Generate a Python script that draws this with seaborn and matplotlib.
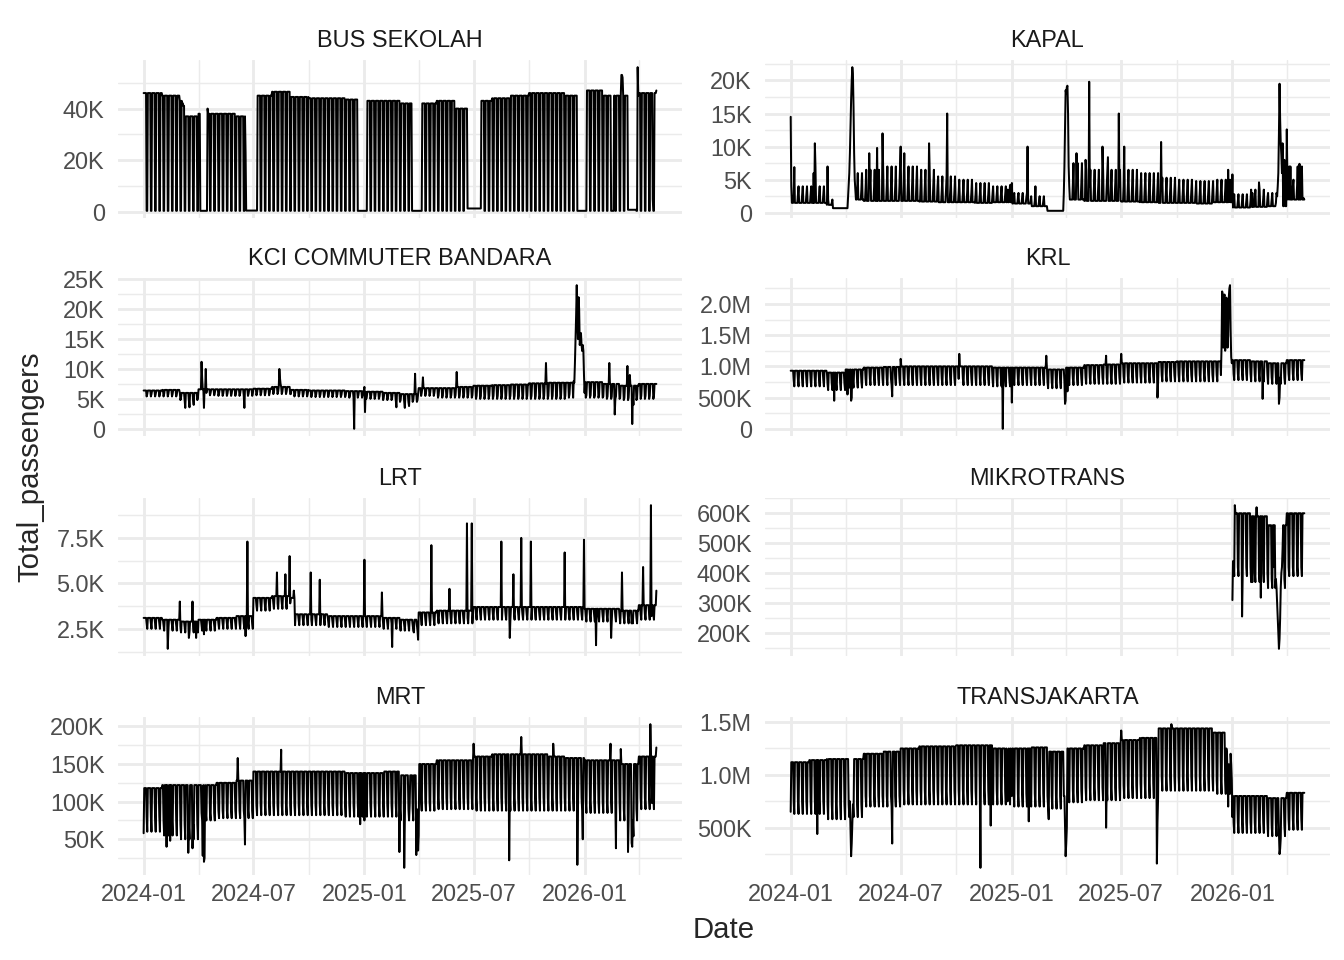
"""
Daily passengers per transport mode, Jakarta (facet grid, free y scales)
"""
import numpy as np
import pandas as pd
import matplotlib
matplotlib.use("Agg")
import matplotlib.pyplot as plt
import seaborn as sns

START, END = "2024-01-01", "2026-04-30"

MODA = ["BUS SEKOLAH", "KAPAL", "KCI COMMUTER BANDARA", "KRL",
        "LRT", "MIKROTRANS", "MRT", "TRANSJAKARTA"]

# monthly levels (Jan 2024 .. Apr 2026): weekday, saturday, sunday
# values in thousands unless noted
bus_wd = [46, 45, 37, 38, 38, 37, 45, 46.5, 44.5, 44, 44, 43.5,
          43, 43, 42, 42, 43, 40, 43, 44, 45, 46, 46, 45,
          47, 45, 45, 46]
bus_sat = [0.5] * 28
bus_sun = [0.5] * 28
bus_ranges = [("2024-04-04", "2024-04-15", 0.5), ("2024-06-19", "2024-07-07", 0.6),
              ("2024-12-21", "2025-01-05", 0.5), ("2025-03-21", "2025-04-06", 0.5),
              ("2025-06-21", "2025-07-13", 1.4), ("2025-12-20", "2026-01-04", 0.5),
              ("2026-02-14", "2026-02-18", 0.5), ("2026-03-14", "2026-03-27", 0.9)]
bus_points = [("2024-03-01", 43), ("2024-03-04", 43), ("2024-03-05", 42), ("2024-03-06", 42),
              ("2024-03-07", 41), ("2024-03-08", 41), ("2024-04-16", 40), ("2024-06-18", 23),
              ("2026-03-03", 53), ("2026-03-04", 53), ("2026-03-05", 52), ("2026-03-30", 56),
              ("2026-04-24", 5), ("2026-04-30", 47)]

kapal_wd = [1.5, 1.5, 1.2, 2.0, 1.8, 1.8, 1.8, 1.7, 1.6, 1.6, 1.5, 1.6,
            1.4, 1.0, 0.8, 2.0, 1.8, 1.8, 1.7, 1.6, 1.5, 1.5, 1.4, 1.6,
            0.8, 0.9, 1.0, 2.0]
kapal_sat = [2.8, 2.8, 1.5, 3.5, 3.8, 4.0, 4.2, 4.0, 3.3, 3.0, 2.8, 2.8,
             2.3, 1.8, 1.0, 4.5, 4.0, 4.0, 4.0, 3.8, 3.3, 3.2, 3.0, 3.2,
             1.8, 2.2, 2.0, 4.0]
kapal_sun = [4.0, 4.0, 2.0, 6.0, 6.5, 7.0, 7.0, 6.5, 5.5, 5.0, 4.5, 4.0,
             3.0, 2.5, 1.2, 7.5, 6.5, 6.5, 6.5, 6.0, 5.3, 5.0, 4.8, 5.0,
             2.8, 3.5, 3.0, 7.0]
kapal_ranges = [("2024-03-11", "2024-04-04", 0.7), ("2025-03-01", "2025-03-27", 0.3)]
kapal_points = [("2024-01-01", 14.5), ("2024-01-02", 4), ("2024-01-07", 6.9), ("2024-02-08", 6),
                ("2024-02-10", 10.5), ("2024-02-11", 7), ("2024-03-02", 7),
                ("2024-04-05", 2.5), ("2024-04-06", 4), ("2024-04-07", 6), ("2024-04-08", 9),
                ("2024-04-09", 13), ("2024-04-10", 17), ("2024-04-11", 20), ("2024-04-12", 22),
                ("2024-04-13", 21), ("2024-04-14", 16), ("2024-04-15", 9), ("2024-04-16", 5),
                ("2024-04-17", 3.5), ("2024-05-10", 9), ("2024-05-23", 9.8), ("2024-06-01", 12),
                ("2024-07-01", 10), ("2024-07-07", 9), ("2024-08-17", 10.5), ("2024-09-16", 15),
                ("2024-12-25", 3.5), ("2024-12-29", 4.2), ("2025-01-01", 4.5), ("2025-01-27", 10),
                ("2025-02-09", 4), ("2025-03-28", 3), ("2025-03-29", 7), ("2025-03-30", 13),
                ("2025-03-31", 18.5), ("2025-04-01", 18), ("2025-04-02", 19), ("2025-04-03", 19.2),
                ("2025-04-04", 15), ("2025-04-05", 7), ("2025-04-06", 4), ("2025-04-18", 9),
                ("2025-05-03", 8), ("2025-05-09", 19.8), ("2025-05-31", 10), ("2025-06-09", 8.4),
                ("2025-06-27", 15), ("2025-07-06", 10), ("2025-09-05", 10.7), ("2025-12-25", 6.5),
                ("2025-12-28", 5), ("2026-01-01", 5.8), ("2026-02-03", 3), ("2026-02-14", 4.6),
                ("2026-03-14", 1.5), ("2026-03-16", 2.5), ("2026-03-17", 4), ("2026-03-18", 6),
                ("2026-03-19", 12), ("2026-03-20", 19.5), ("2026-03-21", 14), ("2026-03-22", 10.5),
                ("2026-03-23", 8.7), ("2026-03-24", 6), ("2026-03-25", 10.5), ("2026-03-28", 8),
                ("2026-04-01", 12.6), ("2026-04-02", 5), ("2026-04-07", 7), ("2026-04-12", 5),
                ("2026-04-22", 7.4), ("2026-04-29", 2.2), ("2026-04-30", 2)]

kci_wd = [6.4, 6.5, 6.0, 6.6, 6.6, 6.6, 6.7, 7.0, 6.5, 6.4, 6.4, 6.3,
          6.2, 6.0, 5.8, 6.8, 6.8, 7.0, 7.2, 7.3, 7.4, 7.6, 7.7, 7.7,
          7.8, 7.5, 7.2, 7.5]
kci_sat = [5.4, 5.4, 4.8, 5.6, 5.5, 5.5, 5.6, 5.8, 5.4, 5.3, 5.3, 5.2,
           5.0, 4.8, 4.5, 5.5, 5.2, 5.2, 5.0, 5.0, 5.0, 5.0, 5.0, 5.2,
           5.2, 5.0, 4.8, 5.0]
kci_sun = [5.8, 5.8, 5.2, 6.0, 5.9, 5.9, 6.0, 6.2, 5.8, 5.7, 5.7, 5.6,
           5.4, 5.2, 4.8, 6.0, 5.6, 5.6, 5.5, 5.5, 5.5, 5.5, 5.5, 5.8,
           5.6, 5.4, 5.2, 5.5]
kci_ranges = []
kci_points = [("2024-03-10", 3.5), ("2024-03-17", 3.6), ("2024-03-24", 4.0), ("2024-04-06", 11.2),
              ("2024-04-07", 8.5), ("2024-04-10", 3.5), ("2024-04-13", 10.0), ("2024-06-16", 3.5),
              ("2024-08-13", 10.0), ("2024-08-14", 8.5), ("2024-08-15", 7.5), ("2024-12-15", 0.0),
              ("2025-01-01", 7.0), ("2025-01-02", 2.8), ("2025-02-23", 3.6), ("2025-03-09", 3.5),
              ("2025-03-16", 3.8), ("2025-03-26", 9.2), ("2025-04-08", 8.6), ("2025-06-03", 9.5),
              ("2025-10-29", 11.0), ("2025-12-14", 8), ("2025-12-16", 11), ("2025-12-17", 15),
              ("2025-12-18", 19), ("2025-12-19", 24), ("2025-12-20", 18), ("2025-12-21", 15),
              ("2025-12-22", 22), ("2025-12-23", 20), ("2025-12-24", 14), ("2025-12-25", 15),
              ("2025-12-26", 16), ("2025-12-27", 14), ("2025-12-28", 13), ("2025-12-29", 14),
              ("2025-12-30", 13), ("2025-12-31", 9), ("2026-01-01", 6), ("2026-02-11", 11.0),
              ("2026-02-20", 2.4), ("2026-03-13", 10.5), ("2026-03-17", 9.0), ("2026-03-21", 0.8),
              ("2026-03-23", 4.0)]

# KRL and TRANSJAKARTA in millions
krl_wd = [0.93, 0.93, 0.90, 0.95, 0.98, 0.99, 1.00, 1.00, 1.00, 1.00, 1.00, 0.98,
          0.98, 0.98, 0.95, 0.98, 1.02, 1.03, 1.05, 1.05, 1.07, 1.08, 1.08, 1.08,
          1.10, 1.08, 1.05, 1.10]
krl_sat = [0.78, 0.78, 0.72, 0.76, 0.80, 0.80, 0.80, 0.80, 0.80, 0.80, 0.80, 0.78,
           0.80, 0.80, 0.75, 0.80, 0.82, 0.82, 0.84, 0.84, 0.86, 0.86, 0.86, 0.86,
           0.88, 0.86, 0.82, 0.88]
krl_sun = [0.68, 0.68, 0.62, 0.66, 0.70, 0.70, 0.70, 0.70, 0.70, 0.70, 0.70, 0.68,
           0.70, 0.70, 0.65, 0.70, 0.72, 0.72, 0.74, 0.74, 0.76, 0.76, 0.76, 0.76,
           0.78, 0.76, 0.72, 0.78]
krl_ranges = []
krl_points = [("2024-03-13", 0.45), ("2024-04-04", 0.55), ("2024-04-10", 0.45), ("2024-04-11", 0.5),
              ("2024-06-17", 0.52), ("2024-07-01", 1.12), ("2024-10-06", 1.2), ("2024-12-17", 0.0),
              ("2025-01-01", 0.42), ("2025-02-27", 1.17), ("2025-03-30", 0.4), ("2025-03-31", 0.45),
              ("2025-04-03", 0.6), ("2025-06-06", 1.17), ("2025-07-01", 1.2), ("2025-08-30", 0.5),
              ("2025-12-14", 1.3), ("2025-12-15", 2.2), ("2025-12-16", 2.15), ("2025-12-17", 1.3),
              ("2025-12-18", 2.1), ("2025-12-19", 2.15), ("2025-12-20", 1.25), ("2025-12-21", 1.4),
              ("2025-12-22", 2.1), ("2025-12-23", 2.0), ("2025-12-24", 1.3), ("2025-12-25", 1.5),
              ("2025-12-26", 2.1), ("2025-12-27", 2.25), ("2025-12-28", 2.3), ("2025-12-29", 1.6),
              ("2025-12-30", 1.15), ("2025-12-31", 1.05), ("2026-02-20", 0.48), ("2026-03-19", 0.4),
              ("2026-03-20", 0.5)]

lrt_wd = [3.1, 3.0, 2.9, 3.0, 3.1, 3.2, 4.2, 4.3, 3.3, 3.3, 3.2, 3.2,
          3.2, 3.1, 3.0, 3.4, 3.5, 3.5, 3.7, 3.7, 3.7, 3.7, 3.7, 3.7,
          3.6, 3.6, 3.5, 3.8]
lrt_sat = [2.8, 2.7, 2.6, 2.7, 2.8, 2.8, 3.8, 3.9, 3.0, 3.0, 2.9, 2.9,
           2.9, 2.8, 2.7, 3.0, 3.1, 3.1, 3.3, 3.3, 3.3, 3.3, 3.3, 3.3,
           3.2, 3.2, 3.1, 3.3]
lrt_sun = [2.5, 2.4, 2.3, 2.4, 2.5, 2.5, 3.5, 3.6, 2.7, 2.7, 2.6, 2.6,
           2.6, 2.5, 2.4, 2.7, 2.8, 2.8, 3.0, 3.0, 3.0, 3.0, 3.0, 3.0,
           2.9, 2.9, 2.8, 3.0]
lrt_ranges = [("2024-09-01", "2024-09-07", 4.2)]
lrt_points = [("2024-02-10", 1.4), ("2024-03-01", 4.0), ("2024-03-16", 2.0), ("2024-03-22", 4.0),
              ("2024-03-28", 2.0), ("2024-04-10", 2.2), ("2024-06-18", 2.1), ("2024-06-21", 7.3),
              ("2024-08-09", 5.6), ("2024-08-23", 5.5), ("2024-08-30", 6.5), ("2024-09-06", 4.6),
              ("2024-10-04", 5.6), ("2024-10-19", 5.2), ("2025-01-01", 6.3), ("2025-01-30", 4.5),
              ("2025-02-16", 1.5), ("2025-03-24", 2.3), ("2025-03-31", 1.9), ("2025-04-22", 7.1),
              ("2025-05-22", 4.7), ("2025-06-20", 8.3), ("2025-06-28", 8.3), ("2025-08-16", 7.3),
              ("2025-08-30", 2.0), ("2025-09-05", 5.5), ("2025-09-18", 7.5), ("2025-10-04", 7.3),
              ("2025-11-29", 6.7), ("2025-12-31", 7.4), ("2026-01-20", 1.6), ("2026-02-14", 2.0),
              ("2026-03-04", 5.6), ("2026-03-20", 2.8), ("2026-04-08", 5.9), ("2026-04-21", 9.3),
              ("2026-04-22", 3.2), ("2026-04-30", 4.6)]

mikro_wd = [np.nan] * 24 + [600, 590, 560, 600]
mikro_sat = [np.nan] * 24 + [420, 400, 380, 420]
mikro_sun = [np.nan] * 24 + [390, 370, 350, 390]
mikro_ranges = []
mikro_points = [("2026-01-01", 310), ("2026-01-02", 440), ("2026-01-05", 627), ("2026-01-17", 255),
                ("2026-02-03", 370), ("2026-02-10", 620), ("2026-02-17", 318), ("2026-03-10", 420),
                ("2026-03-13", 350), ("2026-03-16", 300), ("2026-03-17", 250), ("2026-03-18", 200),
                ("2026-03-19", 147), ("2026-03-20", 180), ("2026-03-21", 250), ("2026-03-23", 400),
                ("2026-03-24", 420), ("2026-03-25", 480)]

mrt_wd = [118, 122, 122, 122, 125, 128, 140, 140, 140, 140, 140, 138,
          138, 140, 135, 150, 155, 155, 160, 163, 163, 163, 160, 158,
          155, 155, 150, 160]
mrt_sat = [80, 75, 70, 85, 88, 88, 95, 95, 95, 95, 95, 95,
           95, 95, 90, 100, 105, 105, 105, 105, 105, 105, 105, 105,
           100, 100, 90, 105]
mrt_sun = [60, 55, 50, 75, 78, 78, 82, 82, 82, 82, 82, 80,
           80, 80, 75, 88, 90, 90, 88, 88, 88, 88, 88, 88,
           85, 85, 75, 90]
mrt_ranges = []
mrt_points = [("2024-01-01", 58), ("2024-02-08", 40), ("2024-02-14", 48), ("2024-03-15", 32),
              ("2024-03-22", 38), ("2024-04-08", 28), ("2024-04-10", 20), ("2024-04-11", 25),
              ("2024-06-05", 158), ("2024-06-17", 43), ("2024-08-16", 169), ("2024-12-25", 70),
              ("2025-01-01", 75), ("2025-02-28", 33), ("2025-03-08", 12), ("2025-03-17", 95),
              ("2025-03-28", 29), ("2025-03-31", 35), ("2025-04-01", 55), ("2025-07-01", 177),
              ("2025-08-29", 22), ("2025-09-18", 186), ("2025-11-10", 177), ("2025-12-20", 16),
              ("2025-12-29", 50), ("2026-02-13", 177), ("2026-02-22", 38), ("2026-03-02", 170),
              ("2026-03-14", 33), ("2026-03-20", 45), ("2026-03-21", 40), ("2026-03-23", 54),
              ("2026-04-20", 203), ("2026-04-23", 98), ("2026-04-30", 172)]

tj_wd = [1.12, 1.14, 1.15, 1.15, 1.20, 1.22, 1.25, 1.27, 1.27, 1.28, 1.28, 1.25,
         1.25, 1.26, 1.22, 1.25, 1.28, 1.30, 1.33, 1.35, 1.44, 1.44, 1.44, 1.40,
         0.80, 0.80, 0.78, 0.83]
tj_sat = [0.75, 0.75, 0.72, 0.72, 0.80, 0.80, 0.85, 0.85, 0.85, 0.85, 0.85, 0.85,
          0.82, 0.82, 0.80, 0.85, 0.88, 0.88, 0.90, 0.92, 0.98, 0.98, 0.98, 0.95,
          0.55, 0.55, 0.52, 0.58]
tj_sun = [0.63, 0.63, 0.58, 0.60, 0.70, 0.70, 0.72, 0.72, 0.72, 0.72, 0.72, 0.72,
          0.70, 0.70, 0.68, 0.74, 0.76, 0.76, 0.78, 0.78, 0.85, 0.85, 0.85, 0.82,
          0.45, 0.45, 0.42, 0.48]
tj_ranges = []
tj_points = [("2024-01-01", 0.65), ("2024-02-14", 0.44), ("2024-04-08", 0.75), ("2024-04-09", 0.5),
             ("2024-04-10", 0.23), ("2024-04-11", 0.35), ("2024-04-12", 0.55), ("2024-06-17", 0.35),
             ("2024-11-10", 0.12), ("2024-11-27", 0.52), ("2024-12-24", 0.95), ("2024-12-25", 0.75),
             ("2024-12-26", 0.95), ("2024-12-31", 0.9), ("2025-01-01", 0.8), ("2025-01-29", 0.56),
             ("2025-03-03", 0.58), ("2025-03-28", 0.8), ("2025-03-30", 0.5), ("2025-03-31", 0.23),
             ("2025-04-01", 0.35), ("2025-04-02", 0.5), ("2025-06-06", 0.5), ("2025-07-01", 1.42),
             ("2025-08-29", 0.16), ("2025-08-30", 0.55), ("2025-09-22", 1.48), ("2025-12-22", 1.25),
             ("2025-12-23", 1.2), ("2025-12-24", 1.0), ("2025-12-25", 0.7), ("2025-12-26", 1.1),
             ("2025-12-29", 1.2), ("2025-12-30", 1.1), ("2025-12-31", 0.95), ("2026-01-01", 0.6),
             ("2026-03-19", 0.45), ("2026-03-20", 0.25), ("2026-03-21", 0.3), ("2026-03-22", 0.4),
             ("2026-04-30", 0.83)]

# y axis breaks per facet
y_ticks = {
    "BUS SEKOLAH": ([0, 20e3, 40e3], ["0", "20K", "40K"]),
    "KAPAL": ([0, 5e3, 10e3, 15e3, 20e3], ["0", "5K", "10K", "15K", "20K"]),
    "KCI COMMUTER BANDARA": ([0, 5e3, 10e3, 15e3, 20e3, 25e3], ["0", "5K", "10K", "15K", "20K", "25K"]),
    "KRL": ([0, 0.5e6, 1e6, 1.5e6, 2e6], ["0", "500K", "1.0M", "1.5M", "2.0M"]),
    "LRT": ([2.5e3, 5e3, 7.5e3], ["2.5K", "5.0K", "7.5K"]),
    "MIKROTRANS": ([200e3, 300e3, 400e3, 500e3, 600e3], ["200K", "300K", "400K", "500K", "600K"]),
    "MRT": ([50e3, 100e3, 150e3, 200e3], ["50K", "100K", "150K", "200K"]),
    "TRANSJAKARTA": ([0.5e6, 1e6, 1.5e6], ["500K", "1.0M", "1.5M"]),
}
x_major = ["2024-01-01", "2024-07-01", "2025-01-01", "2025-07-01", "2026-01-01"]
x_labels = ["2024-01", "2024-07", "2025-01", "2025-07", "2026-01"]
x_minor = ["2024-04-01", "2024-10-01", "2025-04-01", "2025-10-01", "2026-04-01"]


def build_series(wd, sat, sun, ranges, points, unit):
    """Daily series from monthly weekday/weekend levels plus read-off special days"""
    dates = pd.date_range(START, END, freq="D")
    month = (dates.year - 2024) * 12 + dates.month - 1
    dow = dates.dayofweek
    wd, sat, sun = (np.asarray(a, dtype=float) for a in (wd, sat, sun))
    vals = np.where(dow < 5, wd[month], np.where(dow == 5, sat[month], sun[month]))
    s = pd.Series(vals, index=dates)
    for start, end, v in ranges:
        s[start:end] = v
    for d, v in points:
        s[pd.Timestamp(d)] = v
    return (s * unit).dropna()


def load_data():
    specs = {
        "BUS SEKOLAH": (bus_wd, bus_sat, bus_sun, bus_ranges, bus_points, 1e3),
        "KAPAL": (kapal_wd, kapal_sat, kapal_sun, kapal_ranges, kapal_points, 1e3),
        "KCI COMMUTER BANDARA": (kci_wd, kci_sat, kci_sun, kci_ranges, kci_points, 1e3),
        "KRL": (krl_wd, krl_sat, krl_sun, krl_ranges, krl_points, 1e6),
        "LRT": (lrt_wd, lrt_sat, lrt_sun, lrt_ranges, lrt_points, 1e3),
        "MIKROTRANS": (mikro_wd, mikro_sat, mikro_sun, mikro_ranges, mikro_points, 1e3),
        "MRT": (mrt_wd, mrt_sat, mrt_sun, mrt_ranges, mrt_points, 1e3),
        "TRANSJAKARTA": (tj_wd, tj_sat, tj_sun, tj_ranges, tj_points, 1e6),
    }
    frames = []
    for moda in MODA:
        s = build_series(*specs[moda])
        frames.append(pd.DataFrame({"Date": s.index, "Total_passengers": s.values, "Moda": moda}))
    return pd.concat(frames, ignore_index=True)


def main():
    df = load_data()

    sns.set_theme(style="white")
    plt.rcParams["font.family"] = ["Liberation Sans", "DejaVu Sans"]

    W, H = 1344, 960
    fig = plt.figure(figsize=(7, 5), dpi=192, facecolor="white")
    col_x = [(118, 682), (765, 1330)]
    row_top = [60, 278, 498, 717]
    panel_h = 158

    axes = []
    for i, moda in enumerate(MODA):
        row, col = divmod(i, 2)
        x0, x1 = col_x[col]
        rect = [x0 / W, 1 - (row_top[row] + panel_h) / H, (x1 - x0) / W, panel_h / H]
        ax = fig.add_axes(rect, sharex=axes[0] if axes else None)
        sub = df[df["Moda"] == moda]
        sns.lineplot(data=sub, x="Date", y="Total_passengers", ax=ax,
                     color="black", linewidth=0.75, estimator=None)
        ax.set_xlabel("")
        ax.set_ylabel("")
        ax.set_title(moda, fontsize=8.8, color="#1A1A1A", pad=5.0)
        for sp in ax.spines.values():
            sp.set_visible(False)
        ax.set_axisbelow(True)
        axes.append(ax)

    # y breaks
    for ax, moda in zip(axes, MODA):
        lo, hi = ax.get_ylim()
        vals, labels = y_ticks[moda]
        step = vals[1] - vals[0]
        ax.set_yticks(vals, labels)
        ax.set_yticks(np.arange(vals[0] - step / 2, vals[-1] + step, step), minor=True)
        ax.set_ylim(lo, hi)

    # shared date axis
    xlo, xhi = axes[0].get_xlim()
    axes[0].set_xticks(pd.to_datetime(x_major), x_labels)
    axes[0].set_xticks(pd.to_datetime(x_minor), minor=True)
    axes[0].set_xlim(xlo, xhi)

    for i, ax in enumerate(axes):
        ax.grid(which="major", color="#EBEBEB", linewidth=1.07)
        ax.grid(which="minor", color="#EBEBEB", linewidth=0.53)
        ax.tick_params(which="both", length=0)
        ax.tick_params(axis="y", labelsize=8.8, labelcolor="#4D4D4D", pad=5.0)
        ax.tick_params(axis="x", labelsize=8.8, labelcolor="#4D4D4D", pad=3.0,
                       labelbottom=i >= 6)

    fig.text(724 / W, 1 - 930 / H, "Date", ha="center", va="center", fontsize=11)
    fig.text(30 / W, 1 - 467 / H, "Total_passengers", ha="center", va="center",
             rotation=90, fontsize=11)

    fig.savefig("out.png", dpi=192, facecolor="white")
    plt.close(fig)


if __name__ == "__main__":
    main()
